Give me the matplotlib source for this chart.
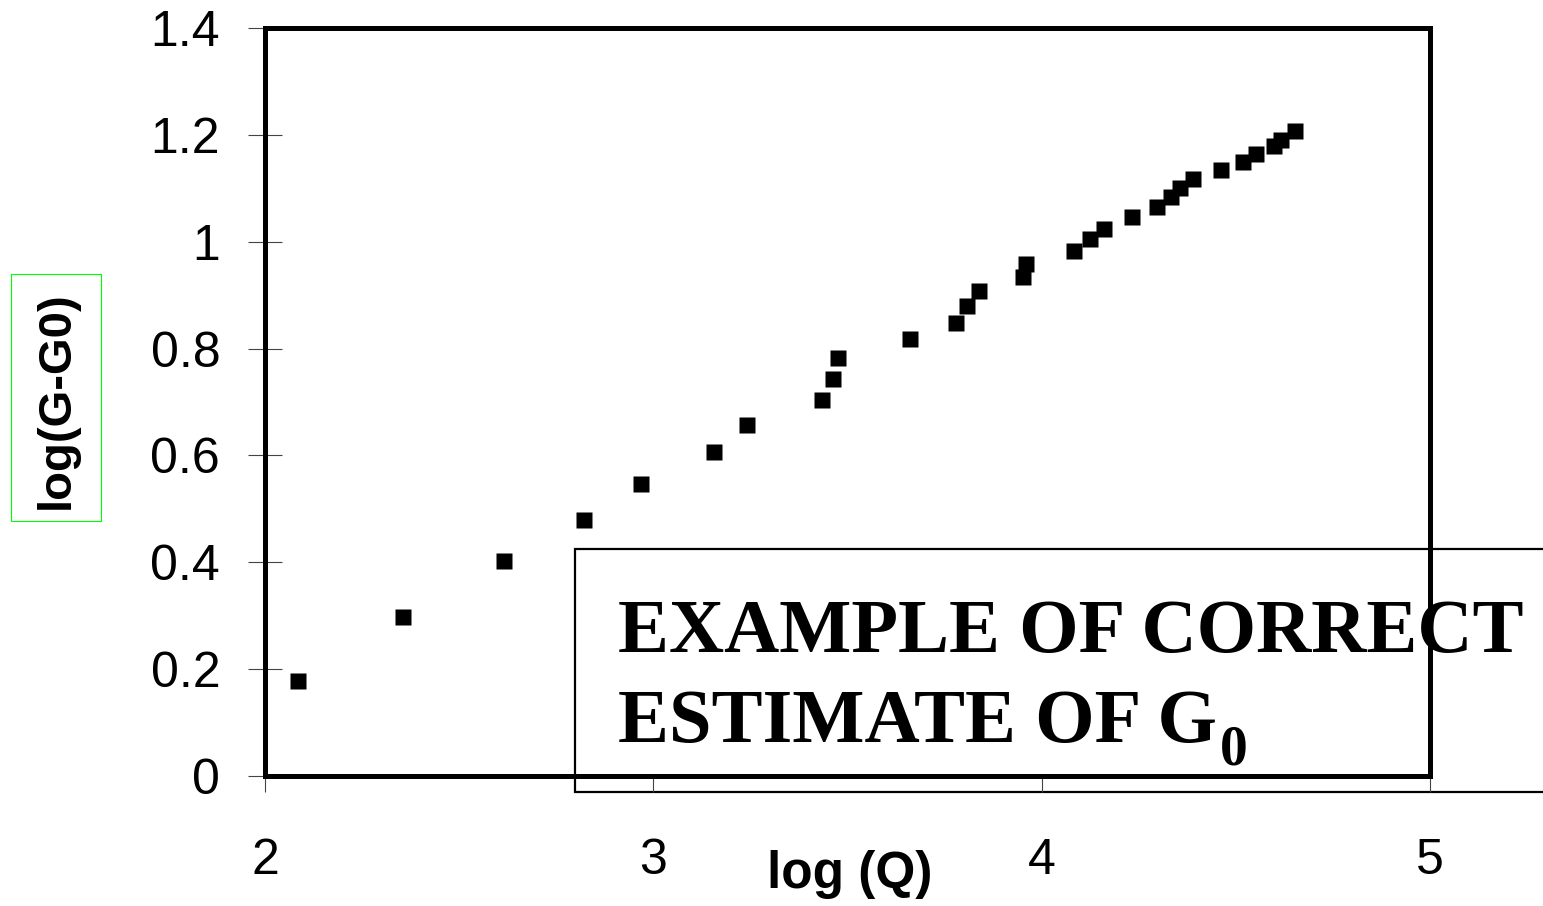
import matplotlib
matplotlib.use("Agg")
import matplotlib.pyplot as plt
from matplotlib.patches import Rectangle

# log(Q) vs log(G-G0)
log_q = [2.085, 2.355, 2.615, 2.822, 2.968, 3.156, 3.241, 3.434, 3.463, 3.476,
         3.661, 3.780, 3.808, 3.839, 3.952, 3.960, 4.083, 4.125, 4.161, 4.233,
         4.298, 4.334, 4.356, 4.390, 4.462, 4.519, 4.553, 4.599, 4.615, 4.653]
log_g = [0.178, 0.298, 0.402, 0.479, 0.547, 0.606, 0.657, 0.704, 0.743, 0.782,
         0.818, 0.848, 0.880, 0.908, 0.934, 0.958, 0.983, 1.005, 1.024, 1.046,
         1.065, 1.084, 1.101, 1.117, 1.134, 1.149, 1.164, 1.179, 1.190, 1.207]

x_ticks = [2, 3, 4, 5]
y_ticks = [0, 0.2, 0.4, 0.6, 0.8, 1.0, 1.2, 1.4]
y_ticklabels = ["0", "0.2", "0.4", "0.6", "0.8", "1", "1.2", "1.4"]

plt.rcParams["font.family"] = ["Liberation Sans", "DejaVu Sans"]

fig = plt.figure(figsize=(15.43, 9.06), dpi=100)
ax = fig.add_axes([0.1717, 0.1435, 0.7551, 0.8256])

ax.plot(log_q, log_g, ls="none", marker="s", ms=12, color="black", mec="none", zorder=2)

ax.set_xlim(2, 5)
ax.set_ylim(0, 1.4)
ax.set_xticks(x_ticks)
ax.set_yticks(y_ticks)
ax.set_yticklabels(y_ticklabels)
ax.tick_params(axis="x", direction="out", length=11.5, width=0.8, color="#444444",
               labelsize=36, pad=33)
ax.tick_params(axis="y", direction="inout", length=24.5, width=0.8, color="#444444",
               labelsize=36, pad=20)
for sp in ax.spines.values():
    sp.set_linewidth(3.6)
    sp.set_zorder(3)

ax.set_xlabel("log (Q)", fontsize=37, fontweight="bold", va="center")
ax.xaxis.set_label_coords(0.502, -0.132)
ax.set_ylabel("log(G-G0)", fontsize=34, fontweight="bold", va="center")
ax.yaxis.set_label_coords(-0.179, 0.503)

# green frame around the y label
fig.patches.append(Rectangle((11 / 1543, 1 - 521 / 906), 90 / 1543, 247 / 906,
                             transform=fig.transFigure, fill=False,
                             edgecolor="#00ff00", linewidth=0.8))

# annotation box, partly outside the axes
ax.add_patch(Rectangle((0.266, -0.021), 1.2, 0.324, transform=ax.transAxes,
                       facecolor="white", edgecolor="black", linewidth=1.6,
                       clip_on=False, zorder=1.5))
serif = dict(family="Liberation Serif", fontweight="bold", fontsize=55, zorder=1.8)
ax.text(0.303, 0.166, "EXAMPLE OF CORRECT", transform=ax.transAxes,
        va="baseline", ha="left", **serif)
line2 = ax.text(0.303, 0.045, "ESTIMATE OF G", transform=ax.transAxes,
                va="baseline", ha="left", **serif)
ax.annotate("0", xy=(1, 0), xycoords=line2, xytext=(2, -13), textcoords="offset points",
            va="bottom", ha="left", family="Liberation Serif", fontweight="bold",
            fontsize=40, zorder=1.8, annotation_clip=False)

fig.savefig("out.png", dpi=100)
